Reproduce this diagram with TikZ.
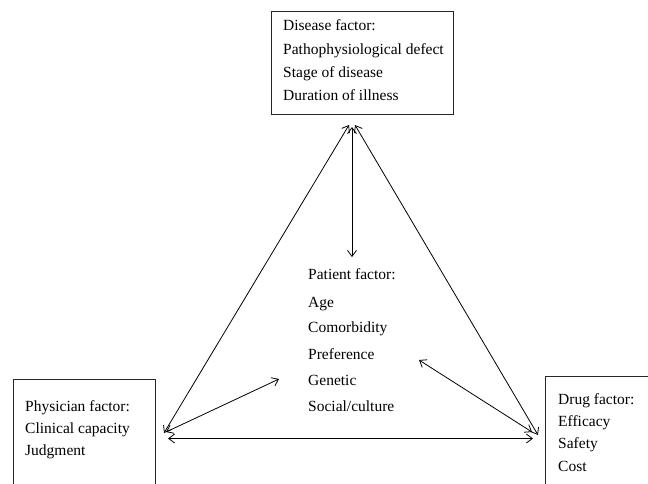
\documentclass[tikz,border=0pt]{standalone}
\usepackage{fontspec}
\setmainfont{Liberation Serif}
\usetikzlibrary{arrows.meta}
\begin{document}
\begin{tikzpicture}[x=1pt,y=-1pt,
  txt/.style={anchor=base west,inner sep=0pt,font=\fontsize{15.5}{18}\selectfont},
  box/.style={draw=black!85,line width=1pt,rectangle,inner sep=0pt,anchor=north west},
  tip/.style={Straight Barb[length=6pt,width=9pt]},
  link/.style={line width=0.8pt,{Straight Barb[length=6pt,width=9pt]}-{Straight Barb[length=6pt,width=9pt]}}]
\useasboundingbox (0,0) rectangle (648,483);
\clip (0,0) rectangle (648,483);
% boxes
\node[box,minimum width=182pt,minimum height=103pt] (disease) at (271,11) {};
\node[box,minimum width=142pt,minimum height=130pt] (physician) at (13,379) {};
\node[box,minimum width=130pt,minimum height=130pt] (drug) at (545,376) {};
% texts
\node[txt] (d1) at (283,30.7) {Disease factor:};
\node[txt] (d2) at (283,54.3) {Pathophysiological defect};
\node[txt] (d3) at (283,77.5) {Stage of disease};
\node[txt] (d4) at (283,100.8) {Duration of illness};
\node[txt] (p1) at (308,279.3) {Patient factor:};
\node[txt] (p2) at (308,307.3) {Age};
\node[txt] (p3) at (308,332.8) {Comorbidity};
\node[txt] (p4) at (308,359) {Preference};
\node[txt] (p5) at (308,385.3) {Genetic};
\node[txt] (p6) at (308,411.7) {Social/culture};
\node[txt] (h1) at (25,411.7) {Physician factor:};
\node[txt] (h2) at (25,433.5) {Clinical capacity};
\node[txt] (h3) at (25,455.2) {Judgment};
\node[txt] (g1) at (558,404.3) {Drug factor:};
\node[txt] (g2) at (558,426.7) {Efficacy};
\node[txt] (g3) at (558,448.5) {Safety};
\node[txt] (g4) at (558,471) {Cost};
% connector end points
\coordinate (apL) at (349,125);
\coordinate (apR) at (355,125);
\coordinate (vT) at (352,127);
\coordinate (vB) at (352,257);
\coordinate (phD) at (164,433);
\coordinate (phC) at (166,432);
\coordinate (ptL) at (279,379);
\coordinate (phH) at (168,438.5);
\coordinate (drH) at (533,438.5);
\coordinate (drD) at (538,435);
\coordinate (drC) at (532,432);
\coordinate (ptR) at (419,360);
% connectors
\draw[link] (apL) -- (phD);
\draw[link] (apR) -- (drD);
\draw[link] (vT) -- (vB);
\draw[link] (phC) -- (ptL);
\draw[link] (phH) -- (drH);
\draw[link] (drC) -- (ptR);
\end{tikzpicture}
\end{document}
